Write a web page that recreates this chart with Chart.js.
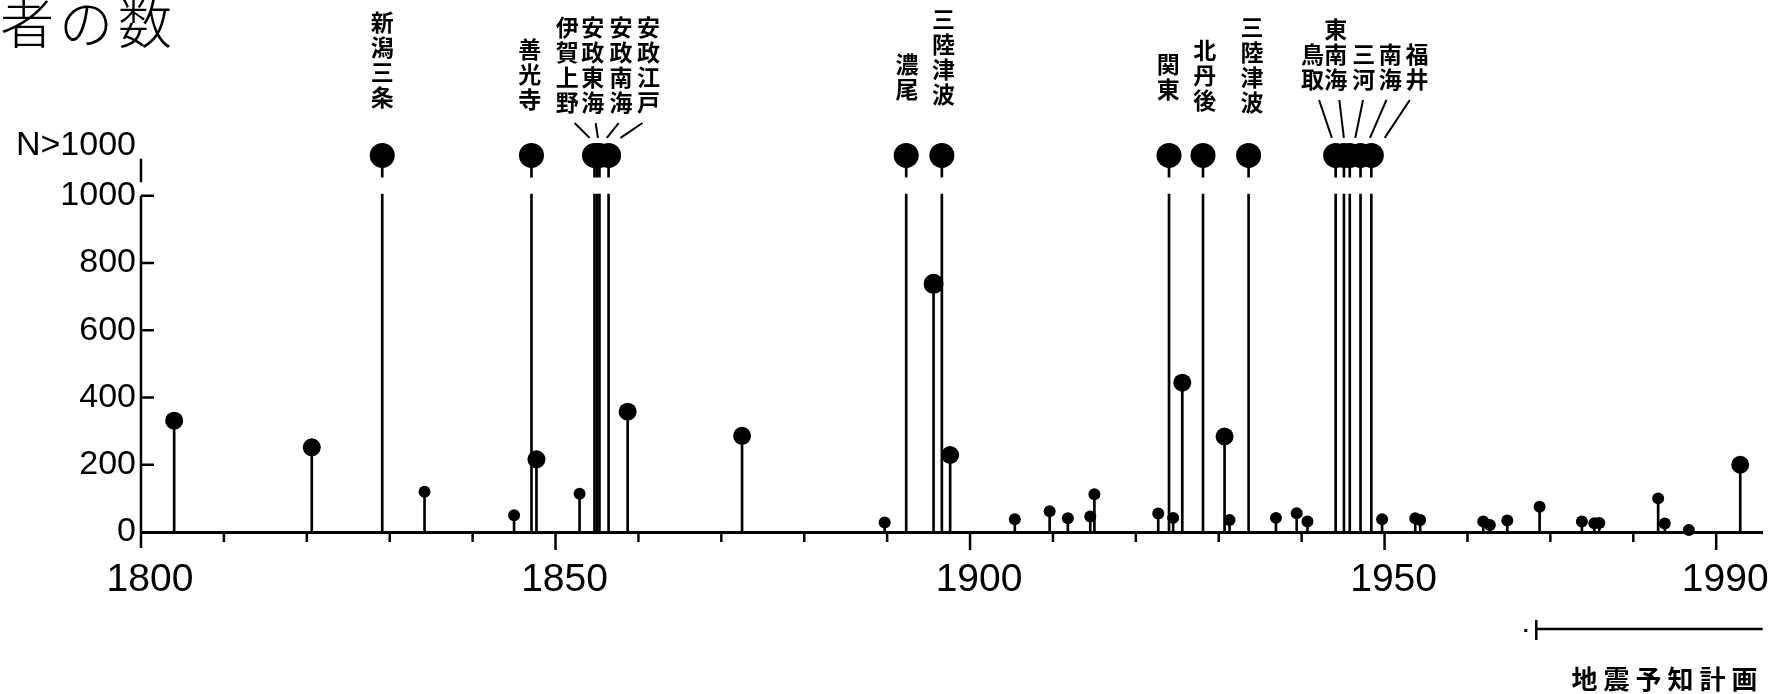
<!DOCTYPE html>
<html lang="ja">
<head>
<meta charset="utf-8">
<title>地震による死者の数</title>
<script src="https://cdn.jsdelivr.net/npm/chart.js@4.4.1/dist/chart.umd.min.js"></script>
<style>
  html, body { margin: 0; padding: 0; background: #fff; }
  canvas { display: block; }
</style>
</head>
<body>
<canvas id="quakeChart" width="1785" height="694"></canvas>
<script>
// 死者1000人以下の地震（年・死者数）
const smallYears = [1804.0, 1820.6, 1834.2, 1845.0, 1847.7, 1852.9, 1858.7, 1872.5, 1889.7, 1895.6,
  1897.6, 1905.4, 1909.6, 1911.8, 1914.5, 1915.0, 1922.7, 1924.5, 1925.6, 1930.7,
  1931.3, 1936.9, 1939.4, 1940.7, 1949.7, 1953.7, 1954.3, 1961.9, 1962.7, 1964.8,
  1968.7, 1973.8, 1975.3, 1975.9, 1983.0, 1983.8, 1986.7, 1992.9];
const smallDeaths = [331, 252, 120, 50, 216, 114, 358, 286, 28, 738,
  229, 38, 62, 41, 46, 112, 55, 42, 444, 284,
  36, 42, 56, 31, 38, 41, 36, 31, 21, 34,
  75, 31, 26, 27, 100, 25, 6, 200];

// 死者1000人超（N>1000）の地震
const bigYears = [1829.1, 1847.1, 1854.7, 1855.0, 1855.3, 1856.4, 1892.3, 1896.6,
  1924.0, 1928.1, 1933.6, 1944.1, 1945.1, 1945.8, 1947.1, 1948.4];
const bigNames = ['新潟三条', '善光寺', '伊賀上野', '安政東海', '安政南海', '安政江戸', '濃尾', '三陸津波',
  '関東', '北丹後', '三陸津波', '鳥取', '東南海', '三河', '南海', '福井'];

// 名前ラベルの置き場所（年）と下端(px)、引き出し線の有無
const labelYears = [1829.1, 1846.9, 1851.4, 1854.5, 1857.9, 1861.2, 1892.4, 1896.8,
  1923.9, 1928.3, 1934.0, 1941.3, 1944.1, 1947.5, 1950.7, 1953.9];
const labelBottoms = [110, 112, 115, 115, 115, 115, 102, 107, 102, 113, 115, 92, 92, 92, 92, 92];
const withLeader = [false, false, true, true, true, true, false, false,
  false, false, false, true, true, true, true, true];

const yTicks = [0, 200, 400, 600, 800, 1000];
const xTicks = [1800, 1810, 1820, 1830, 1840, 1850, 1860, 1870, 1880, 1890, 1900,
  1910, 1920, 1930, 1940, 1950, 1960, 1970, 1980, 1990];
const xLabelYears = [1800, 1850, 1900, 1950, 1990];
const planYears = [1968.3, 1995.6]; // 地震予知計画

const Y_TOP = 1148;     // 'N>1000' の目盛り
const N_LEVEL = 1120;   // N>1000 の点の高さ
const CUT_LOW = 1005, CUT_HIGH = 1055;

const numFont = '"Liberation Sans", Arial, sans-serif';
const jpFont = '"Noto Sans CJK JP", sans-serif';

const decor = {
  id: 'decor',
  afterDraw(chart) {
    const { ctx, chartArea: area, scales: { x, y } } = chart;
    ctx.save();
    ctx.strokeStyle = '#000';
    ctx.fillStyle = '#000';
    ctx.lineCap = 'butt';

    // 縦軸（1000で切れて、上に短い線）
    ctx.lineWidth = 2.5;
    ctx.beginPath();
    ctx.moveTo(area.left, y.getPixelForValue(0) + 16);
    ctx.lineTo(area.left, y.getPixelForValue(1000));
    ctx.moveTo(area.left, y.getPixelForValue(1040));
    ctx.lineTo(area.left, y.getPixelForValue(1110));
    ctx.stroke();

    // 縦軸の目盛り（内向き）
    ctx.beginPath();
    yTicks.forEach(v => {
      if (!v) return;
      const py = y.getPixelForValue(v);
      ctx.moveTo(area.left, py);
      ctx.lineTo(area.left + 13, py);
    });
    ctx.stroke();

    // 横軸の目盛り
    ctx.beginPath();
    xTicks.forEach(v => {
      if (v === 1800) return;
      const px = x.getPixelForValue(v);
      const len = xLabelYears.includes(v) ? 18 : 10;
      ctx.moveTo(px, area.bottom);
      ctx.lineTo(px, area.bottom + len);
    });
    ctx.stroke();

    // 地震名（縦書き）と引き出し線
    const dotTop = y.getPixelForValue(N_LEVEL) - 12.5;
    ctx.font = 'bold 23px ' + jpFont;
    ctx.textAlign = 'center';
    ctx.textBaseline = 'middle';
    ctx.lineWidth = 2;
    bigNames.forEach((name, i) => {
      const lx = x.getPixelForValue(labelYears[i]);
      const chars = [...name];
      const bottom = labelBottoms[i];
      chars.forEach((ch, k) => {
        ctx.fillText(ch, lx, bottom - (chars.length - k - 0.5) * 25);
      });
      if (withLeader[i]) {
        const ex = x.getPixelForValue(bigYears[i]);
        const d = ex - lx;
        ctx.beginPath();
        ctx.moveTo(lx + d * 0.2 + 2, bottom + 8);
        ctx.lineTo(lx + d * 0.75 + 2, dotTop - 5);
        ctx.stroke();
      }
    });

    // 見出し
    ctx.font = '300 54px ' + jpFont;
    ctx.textAlign = 'left';
    [...'者の数'].forEach((ch, k) => ctx.fillText(ch, 0 + k * 59, 23));

    // 地震予知計画
    const p0 = x.getPixelForValue(planYears[0]);
    const p1 = x.getPixelForValue(planYears[1]);
    const by = area.bottom + 97;
    ctx.lineWidth = 2.5;
    ctx.beginPath();
    ctx.moveTo(p0, by);
    ctx.lineTo(p1, by);
    ctx.moveTo(p0, by - 9);
    ctx.lineTo(p0, by + 11);
    ctx.stroke();
    ctx.fillRect(p0 - 12, by, 3, 3);
    ctx.font = 'bold 26px ' + jpFont;
    ctx.textAlign = 'center';
    [...'地震予知計画'].forEach((ch, k, arr) => {
      ctx.fillText(ch, p1 - 18 - (arr.length - 1 - k) * 32, by + 50);
    });
    ctx.restore();
  }
};

const lowStems = smallYears.map((yr, i) => ({ x: yr, y: [0, smallDeaths[i]] }))
  .concat(bigYears.map(yr => ({ x: yr, y: [0, CUT_LOW] })));
const highStems = bigYears.map(yr => ({ x: yr, y: [CUT_HIGH, N_LEVEL] }));
const dots = smallYears.map((yr, i) => ({ x: yr, y: smallDeaths[i] }))
  .concat(bigYears.map(yr => ({ x: yr, y: N_LEVEL })));

new Chart(document.getElementById('quakeChart'), {
  type: 'bar',
  data: {
    datasets: [
      { data: lowStems, backgroundColor: '#000', barThickness: 2, grouped: false },
      { data: highStems, backgroundColor: '#000', barThickness: 2, grouped: false },
      {
        type: 'scatter', data: dots, backgroundColor: '#000', borderWidth: 0, clip: false,
        pointRadius: c => {
          const v = c.raw.y;
          return v >= N_LEVEL ? 12.5 : v >= 600 ? 10 : v >= 150 ? 9 : 6;
        }
      }
    ]
  },
  options: {
    responsive: false,
    animation: false,
    devicePixelRatio: 1,
    events: [],
    layout: { autoPadding: false, padding: { top: 146, right: 15, left: 0, bottom: 0 } },
    plugins: { legend: { display: false }, tooltip: { enabled: false } },
    scales: {
      x: {
        type: 'linear', min: 1800, max: 1995.6, offset: false,
        grid: { display: false, drawTicks: false, offset: false },
        border: { display: true, color: '#000', width: 3 },
        afterBuildTicks: s => { s.ticks = xTicks.map(v => ({ value: v })); },
        afterFit: s => { s.height = 162; },
        ticks: {
          autoSkip: false, maxRotation: 0, padding: 25, labelOffset: 9, color: '#000',
          font: { family: numFont, size: 39 },
          callback: v => xLabelYears.includes(v) ? String(v) : ''
        }
      },
      y: {
        min: 0, max: Y_TOP,
        grid: { display: false, drawTicks: false },
        border: { display: false },
        afterBuildTicks: s => { s.ticks = yTicks.concat([Y_TOP]).map(v => ({ value: v })); },
        afterFit: s => { s.width = 141; },
        ticks: {
          padding: 5, color: '#000',
          font: { family: numFont, size: 34 },
          callback: v => v === Y_TOP ? 'N>1000' : String(v)
        }
      }
    }
  },
  plugins: [decor]
});
</script>
</body>
</html>
